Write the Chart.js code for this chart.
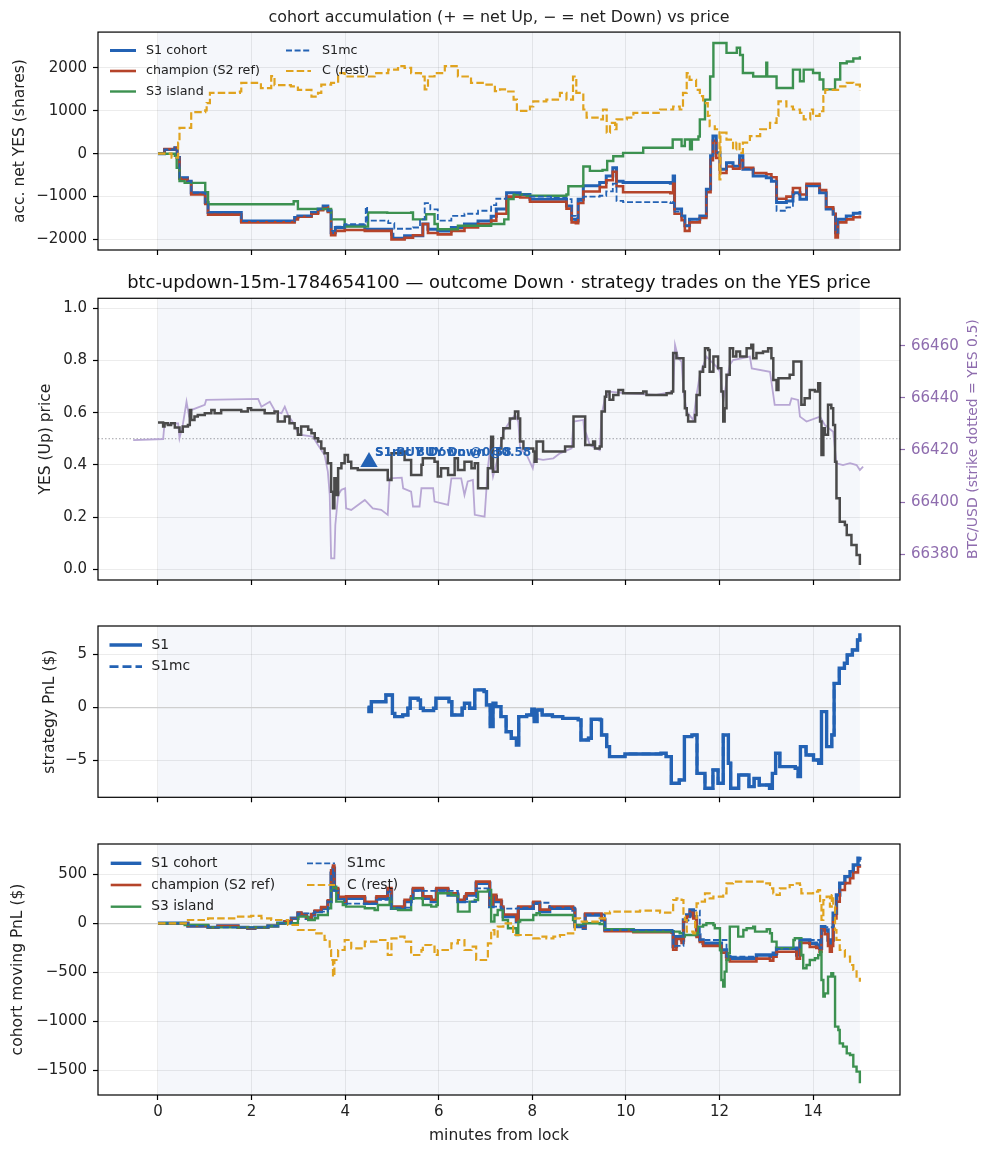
<!DOCTYPE html>
<html>
<head>
<meta charset="utf-8">
<script src="https://cdn.jsdelivr.net/npm/chart.js@4.4.1/dist/chart.umd.min.js"></script>
<style>
  body { margin: 0; background: #fff; }
  .panel { position: absolute; left: 0; }
</style>
</head>
<body>
<div class="panel" style="top:0"><canvas id="accChart" width="993" height="262"></canvas></div>
<div class="panel" style="top:262px"><canvas id="priceChart" width="993" height="330"></canvas></div>
<div class="panel" style="top:592px"><canvas id="pnlChart" width="993" height="215"></canvas></div>
<div class="panel" style="top:807px"><canvas id="cohortChart" width="993" height="349"></canvas></div>
<script>
// ---- data (minutes from lock, value) ----
const xTicks = [0, 2, 4, 6, 8, 10, 12, 14];
const windowSpan = [0, 15];

// panel 1: accumulated net YES shares
const accS1 = [[0,0],[0.14,100],[0.36,140],[0.41,-90],[0.46,-560],[0.63,-640],[0.71,-910],[1.01,-1140],[1.07,-1370],[1.78,-1570],[2.92,-1490],[2.99,-1450],[3.28,-1370],[3.42,-1290],[3.53,-1220],[3.63,-1330],[3.70,-1840],[3.79,-1720],[3.99,-1680],[4.42,-1760],[4.99,-1880],[5.02,-1970],[5.27,-1910],[5.66,-1640],[5.77,-1760],[5.98,-1800],[6.27,-1720],[6.55,-1640],[6.84,-1570],[7.12,-1460],[7.23,-1290],[7.45,-910],[7.74,-950],[7.95,-1060],[8.73,-1220],[8.84,-1530],[8.93,-1570],[8.98,-1060],[9.09,-750],[9.44,-670],[9.58,-520],[9.72,-330],[9.80,-640],[9.94,-670],[10.95,-690],[11.01,-520],[11.04,-1290],[11.19,-1450],[11.26,-1680],[11.36,-1530],[11.58,-1450],[11.72,-830],[11.81,-50],[11.86,410],[11.93,20],[12.01,-360],[12.15,-210],[12.29,-290],[12.43,-50],[12.50,-360],[12.72,-520],[13.00,-560],[13.11,-640],[13.22,-1140],[13.43,-1100],[13.57,-910],[13.72,-1060],[13.86,-750],[14.14,-910],[14.28,-1290],[14.43,-1410],[14.48,-1840],[14.53,-1530],[14.71,-1450],[14.86,-1390],[15.00,-1340]];
const accChampion = [[0,0],[0.14,110],[0.36,130],[0.41,-100],[0.46,-580],[0.63,-660],[0.71,-950],[1.01,-1170],[1.07,-1420],[1.78,-1600],[2.92,-1530],[2.99,-1470],[3.28,-1400],[3.42,-1320],[3.53,-1250],[3.63,-1360],[3.70,-1900],[3.79,-1800],[3.99,-1780],[4.42,-1800],[4.99,-2000],[5.27,-1960],[5.45,-1900],[5.66,-1640],[5.77,-1850],[5.98,-1880],[6.27,-1800],[6.55,-1720],[6.84,-1640],[7.12,-1560],[7.23,-1400],[7.45,-1000],[7.74,-1020],[7.95,-1120],[8.73,-1280],[8.84,-1600],[8.93,-1620],[8.98,-1150],[9.09,-880],[9.44,-780],[9.58,-620],[9.72,-420],[9.80,-760],[9.94,-900],[10.95,-920],[11.01,-700],[11.04,-1400],[11.19,-1550],[11.26,-1800],[11.36,-1600],[11.58,-1500],[11.72,-900],[11.81,-150],[11.86,300],[11.93,-100],[12.01,-450],[12.15,-300],[12.29,-350],[12.43,-150],[12.50,-330],[12.72,-450],[13.00,-480],[13.11,-550],[13.22,-1050],[13.43,-1000],[13.57,-800],[13.72,-950],[13.86,-700],[14.14,-850],[14.28,-1250],[14.43,-1400],[14.48,-1950],[14.53,-1600],[14.71,-1530],[14.86,-1480],[15.00,-1440]];
const accS3 = [[0,0],[0.36,-50],[0.40,-330],[0.46,-640],[0.57,-680],[1.01,-900],[1.07,-1180],[2.84,-1180],[2.90,-1110],[2.99,-1290],[3.63,-1290],[3.70,-1530],[3.99,-1700],[4.42,-1700],[4.49,-1370],[4.90,-1380],[5.41,-1370],[5.45,-1530],[5.66,-1530],[5.73,-1410],[5.91,-1640],[5.98,-1760],[6.27,-1760],[6.41,-1680],[6.84,-1680],[7.12,-1640],[7.40,-1530],[7.49,-1060],[7.60,-950],[7.88,-980],[8.73,-950],[8.77,-760],[9.09,-300],[9.23,-400],[9.50,-380],[9.60,-170],[9.73,-60],[9.94,20],[10.37,140],[10.94,140],[11.00,330],[11.19,180],[11.26,330],[11.37,100],[11.41,330],[11.55,400],[11.58,800],[11.69,1260],[11.80,1800],[11.87,2580],[12.08,2580],[12.15,2350],[12.37,2470],[12.44,2300],[12.50,1880],[12.72,1800],[12.99,1800],[13.00,2120],[13.02,1800],[13.22,1530],[13.50,1530],[13.57,1960],[13.72,1690],[13.80,1960],[14.00,1880],[14.14,1730],[14.22,1500],[14.43,1500],[14.47,1730],[14.58,2110],[14.72,2150],[14.86,2220],[15.00,2270]];
const accS1mc = [[0,0],[0.14,100],[0.36,140],[0.41,-90],[0.46,-560],[0.63,-640],[0.71,-910],[1.01,-1140],[1.07,-1370],[1.78,-1570],[2.92,-1490],[2.99,-1450],[3.28,-1370],[3.42,-1290],[3.53,-1220],[3.63,-1330],[3.70,-1800],[3.79,-1700],[3.99,-1640],[4.42,-1600],[4.44,-1240],[4.47,-1560],[4.92,-1620],[5.05,-1750],[5.45,-1720],[5.60,-1530],[5.70,-1150],[5.82,-1300],[5.98,-1560],[6.27,-1450],[6.55,-1400],[6.84,-1330],[7.12,-1200],[7.23,-1050],[7.45,-920],[7.74,-950],[7.95,-1000],[8.40,-1030],[8.73,-1060],[8.84,-1450],[8.93,-1500],[8.98,-1100],[9.09,-1000],[9.44,-980],[9.58,-880],[9.72,-700],[9.80,-1100],[9.94,-1130],[10.95,-1150],[11.01,-1100],[11.04,-1350],[11.19,-1450],[11.26,-1680],[11.36,-1530],[11.58,-1450],[11.72,-830],[11.81,-50],[11.86,410],[11.93,20],[12.01,-360],[12.15,-210],[12.29,-290],[12.43,-50],[12.50,-360],[12.72,-520],[13.00,-560],[13.11,-640],[13.22,-1330],[13.43,-1250],[13.57,-950],[13.72,-1060],[13.86,-750],[14.14,-910],[14.28,-1290],[14.43,-1410],[14.48,-1840],[14.53,-1530],[14.71,-1450],[14.86,-1390],[15.00,-1340]];
const accRest = [[0,0],[0.29,-90],[0.43,260],[0.46,600],[0.64,600],[0.71,970],[1.01,1010],[1.04,1180],[1.11,1420],[1.75,1450],[1.78,1650],[2.20,1530],[2.42,1810],[2.49,1600],[2.84,1570],[2.99,1490],[3.28,1330],[3.42,1420],[3.49,1610],[3.70,1650],[3.85,1880],[3.99,1800],[4.42,1800],[4.63,1880],[4.92,1960],[5.13,2040],[5.27,2000],[5.41,1880],[5.62,1800],[5.70,1500],[5.77,1800],[5.91,1880],[6.13,2040],[6.41,1800],[6.69,1650],[6.98,1610],[7.20,1460],[7.31,1500],[7.45,1450],[7.60,1260],[7.67,1000],[7.95,1100],[8.02,1220],[8.30,1260],[8.59,1420],[8.73,1260],[8.87,1800],[8.94,1420],[9.09,1030],[9.16,840],[9.44,800],[9.51,1030],[9.59,490],[9.66,720],[9.77,570],[9.80,800],[10.02,840],[10.16,950],[10.45,950],[10.73,1030],[11.01,1100],[11.15,1030],[11.22,1420],[11.30,1880],[11.36,1720],[11.50,1490],[11.58,1340],[11.65,1180],[11.75,880],[11.79,640],[11.90,570],[12.00,-600],[12.02,490],[12.15,330],[12.29,100],[12.36,260],[12.43,20],[12.50,260],[12.65,410],[12.87,570],[13.08,720],[13.22,880],[13.26,1220],[13.43,1100],[13.57,1030],[13.72,950],[13.80,800],[13.94,1030],[14.00,880],[14.14,990],[14.22,1340],[14.26,1490],[14.43,1490],[14.58,1570],[14.72,1650],[14.86,1610],[15.00,1460]];

// panel 2: YES (Up) price and BTC/USD
const yesPrice = [[0,0.562],[0.11,0.547],[0.14,0.559],[0.21,0.553],[0.28,0.559],[0.36,0.543],[0.46,0.527],[0.53,0.547],[0.64,0.553],[0.68,0.610],[0.71,0.572],[0.78,0.585],[0.85,0.591],[1.00,0.598],[1.14,0.610],[1.21,0.598],[1.35,0.610],[1.78,0.604],[1.92,0.617],[1.99,0.610],[2.28,0.598],[2.49,0.604],[2.56,0.566],[2.71,0.585],[2.81,0.559],[2.92,0.540],[2.99,0.515],[3.06,0.547],[3.21,0.534],[3.28,0.521],[3.35,0.502],[3.42,0.489],[3.49,0.463],[3.56,0.444],[3.63,0.406],[3.70,0.297],[3.74,0.234],[3.77,0.349],[3.81,0.285],[3.85,0.387],[3.92,0.406],[3.99,0.438],[4.06,0.412],[4.13,0.387],[4.27,0.380],[4.91,0.342],[4.99,0.444],[5.20,0.451],[5.27,0.419],[5.41,0.361],[5.63,0.400],[5.66,0.425],[5.91,0.412],[5.98,0.355],[6.05,0.387],[6.20,0.361],[6.34,0.425],[6.41,0.380],[6.55,0.412],[6.70,0.387],[6.77,0.406],[6.84,0.310],[7.05,0.387],[7.12,0.508],[7.16,0.374],[7.26,0.463],[7.34,0.502],[7.38,0.540],[7.52,0.578],[7.63,0.604],[7.70,0.578],[7.74,0.489],[7.81,0.463],[8.02,0.451],[8.05,0.412],[8.09,0.489],[8.23,0.451],[8.70,0.470],[8.88,0.585],[9.05,0.585],[9.13,0.476],[9.30,0.489],[9.34,0.463],[9.44,0.470],[9.48,0.604],[9.55,0.661],[9.58,0.681],[9.65,0.649],[9.73,0.668],[9.84,0.687],[9.94,0.674],[10.37,0.681],[10.44,0.668],[10.87,0.674],[10.98,0.681],[11.01,0.828],[11.08,0.808],[11.23,0.681],[11.26,0.617],[11.30,0.591],[11.33,0.566],[11.48,0.591],[11.51,0.668],[11.58,0.757],[11.65,0.776],[11.69,0.847],[11.76,0.840],[11.79,0.757],[11.87,0.815],[11.97,0.770],[12.04,0.681],[12.08,0.566],[12.11,0.617],[12.15,0.745],[12.22,0.847],[12.29,0.815],[12.36,0.834],[12.44,0.815],[12.58,0.847],[12.68,0.860],[12.72,0.808],[12.79,0.828],[12.93,0.834],[13.04,0.847],[13.11,0.808],[13.15,0.725],[13.22,0.687],[13.26,0.732],[13.50,0.745],[13.58,0.796],[13.72,0.796],[13.75,0.630],[13.82,0.655],[13.93,0.687],[14.04,0.681],[14.11,0.713],[14.15,0.566],[14.18,0.438],[14.22,0.540],[14.25,0.515],[14.32,0.630],[14.39,0.617],[14.43,0.553],[14.47,0.412],[14.50,0.272],[14.57,0.182],[14.68,0.170],[14.72,0.131],[14.82,0.093],[14.93,0.055],[15.00,0.016]];
const btcUsd = [[-0.53,66423.8],[0.11,66424.2],[0.14,66430.2],[0.43,66430.2],[0.46,66424.5],[0.53,66429.6],[0.61,66438.5],[0.66,66433.4],[0.71,66435.3],[1.00,66437.3],[1.03,66439.2],[2.14,66439.6],[2.21,66436.6],[2.39,66438.5],[2.51,66434.7],[2.64,66434.1],[2.71,66436.6],[2.78,66433.4],[2.92,66429.6],[2.99,66426.4],[3.06,66425.8],[3.31,66425.1],[3.42,66421.9],[3.56,66418.1],[3.63,66411.7],[3.67,66402.7],[3.70,66378.4],[3.77,66378.4],[3.79,66391.2],[3.85,66402.7],[3.92,66404.7],[4.00,66405.3],[4.02,66397.6],[4.13,66397.0],[4.42,66400.8],[4.59,66397.6],[4.77,66397.0],[4.91,66395.1],[4.95,66409.1],[5.21,66409.4],[5.24,66405.3],[5.41,66404.0],[5.45,66398.3],[5.59,66398.3],[5.63,66405.3],[5.88,66405.3],[5.91,66400.2],[6.20,66398.9],[6.27,66409.1],[6.48,66409.1],[6.55,66402.7],[6.62,66407.9],[6.73,66408.5],[6.77,66395.1],[6.98,66394.4],[7.05,66413.0],[7.09,66419.4],[7.16,66409.8],[7.26,66416.8],[7.34,66423.2],[7.38,66427.0],[7.52,66430.9],[7.63,66433.4],[7.70,66430.9],[7.74,66420.6],[7.88,66418.1],[8.01,66413.0],[8.05,66416.8],[8.23,66416.2],[8.45,66416.8],[8.59,66418.7],[8.84,66420.6],[8.88,66430.9],[9.09,66431.5],[9.13,66423.2],[9.16,66425.8],[9.23,66421.9],[9.44,66420.0],[9.48,66433.4],[9.55,66439.8],[9.66,66442.4],[10.01,66441.7],[10.65,66441.1],[11.01,66442.4],[11.05,66460.3],[11.12,66455.2],[11.19,66453.9],[11.23,66442.4],[11.30,66434.7],[11.44,66431.5],[11.51,66441.1],[11.58,66448.8],[11.72,66455.8],[11.94,66451.9],[12.01,66450.0],[12.08,66438.5],[12.15,66446.2],[12.22,66452.6],[12.29,66454.5],[12.65,66455.8],[12.69,66451.3],[13.08,66450.0],[13.15,66441.1],[13.18,66437.3],[13.50,66437.3],[13.54,66439.8],[13.68,66439.2],[13.72,66432.8],[13.86,66430.9],[14.15,66432.8],[14.25,66429.6],[14.43,66427.0],[14.50,66414.9],[14.64,66414.2],[14.79,66414.9],[14.93,66414.2],[15.00,66412.3],[15.07,66413.6]];
const yesStrike = 0.5;
const tradeMarks = [[4.51, 0.411]];
const tradeLabels = ['S1 BUY Down @0.58', 'S1mc BUY Down @0.58'];

// panel 3: strategy PnL ($) (S1mc runs on top of S1 and is hidden by it)
const pnlS1 = [[4.48,0],[4.51,-0.41],[4.56,0.53],[4.87,1.16],[5.01,-0.57],[5.06,-0.88],[5.23,-0.72],[5.34,-0.09],[5.39,0.85],[5.56,0.69],[5.61,-0.09],[5.67,-0.31],[5.89,-0.09],[5.94,0.85],[6.22,0.53],[6.28,-0.72],[6.50,-0.09],[6.55,0.38],[6.66,-0.09],[6.77,1.64],[6.97,1.48],[7.02,0.22],[7.10,-1.82],[7.16,0.38],[7.22,0.06],[7.33,-0.88],[7.44,-2.30],[7.55,-2.92],[7.66,-3.55],[7.71,-0.88],[7.88,-0.72],[7.99,-0.19],[8.04,-1.35],[8.10,-0.25],[8.21,-0.72],[8.43,-0.88],[8.65,-1.04],[8.98,-1.19],[9.04,-3.08],[9.20,-2.92],[9.26,-1.13],[9.45,-1.19],[9.48,-2.61],[9.59,-3.71],[9.65,-4.65],[9.87,-4.65],[9.98,-4.40],[10.75,-4.34],[10.86,-4.65],[10.97,-7.17],[11.14,-6.86],[11.25,-2.77],[11.41,-2.61],[11.52,-6.23],[11.69,-7.64],[11.86,-5.91],[11.97,-7.17],[12.08,-2.61],[12.19,-5.28],[12.24,-7.64],[12.41,-6.38],[12.63,-7.48],[12.74,-6.70],[12.85,-7.33],[13.07,-7.64],[13.13,-6.23],[13.20,-4.34],[13.29,-5.60],[13.62,-5.75],[13.68,-6.54],[13.73,-3.71],[13.85,-4.50],[14.01,-4.97],[14.12,-5.28],[14.18,-0.41],[14.29,-3.71],[14.40,-2.61],[14.45,2.26],[14.56,3.68],[14.67,4.15],[14.73,4.94],[14.84,5.41],[14.95,6.35],[15.00,6.98]];
const pnlS1mc = pnlS1;

// panel 4: cohort moving PnL ($)
const movS1 = [[0,0],[0.57,0],[0.64,-27],[1.07,-41],[1.28,-27],[1.71,-41],[1.92,-51],[2.07,-41],[2.35,-27],[2.56,0],[2.71,17],[2.85,51],[2.99,102],[3.06,85],[3.17,51],[3.28,85],[3.35,119],[3.49,153],[3.63,221],[3.70,510],[3.74,561],[3.77,340],[3.85,255],[3.99,204],[4.02,255],[4.42,204],[4.67,255],[4.91,340],[4.99,153],[5.27,221],[5.41,255],[5.45,340],[5.66,255],[5.84,221],[5.95,340],[6.20,289],[6.41,221],[6.55,255],[6.59,289],[6.80,408],[7.09,170],[7.16,272],[7.23,221],[7.34,153],[7.38,68],[7.66,17],[7.70,153],[8.02,204],[8.16,119],[8.37,153],[8.87,136],[8.91,-34],[9.09,-51],[9.13,85],[9.44,85],[9.48,34],[9.55,-68],[10.16,-75],[10.98,-85],[11.01,-238],[11.08,-136],[11.19,-170],[11.23,34],[11.30,85],[11.37,136],[11.44,68],[11.51,-119],[11.58,-170],[11.65,-204],[12.04,-272],[12.15,-340],[12.22,-357],[12.79,-323],[13.08,-340],[13.15,-306],[13.22,-255],[13.65,-323],[13.72,-170],[13.93,-204],[14.07,-221],[14.14,-255],[14.18,-34],[14.25,-68],[14.32,-170],[14.36,-221],[14.40,-170],[14.43,102],[14.50,289],[14.57,408],[14.68,476],[14.79,527],[14.86,595],[14.96,663],[15.00,680]];
const movChampion = [[0,0],[0.57,0],[0.64,-27],[1.07,-41],[1.28,-27],[1.71,-41],[1.92,-51],[2.07,-41],[2.35,-27],[2.56,0],[2.71,17],[2.85,51],[2.99,110],[3.06,95],[3.17,60],[3.28,95],[3.35,130],[3.49,165],[3.63,235],[3.70,540],[3.74,590],[3.77,360],[3.85,270],[3.99,220],[4.02,275],[4.42,220],[4.67,275],[4.91,360],[4.99,170],[5.27,240],[5.41,275],[5.45,360],[5.66,275],[5.84,240],[5.95,360],[6.20,305],[6.41,240],[6.55,275],[6.59,305],[6.80,425],[7.09,190],[7.16,290],[7.23,240],[7.34,170],[7.38,90],[7.66,30],[7.70,170],[8.02,220],[8.16,140],[8.37,170],[8.87,150],[8.91,-20],[9.09,-40],[9.13,100],[9.44,100],[9.48,50],[9.55,-80],[10.16,-90],[10.98,-95],[11.01,-270],[11.08,-160],[11.19,-200],[11.23,20],[11.30,70],[11.37,120],[11.44,50],[11.51,-140],[11.58,-190],[11.65,-230],[12.04,-300],[12.15,-370],[12.22,-390],[12.79,-360],[13.08,-380],[13.15,-340],[13.22,-290],[13.65,-360],[13.72,-200],[13.93,-240],[14.07,-250],[14.14,-290],[14.18,-60],[14.25,-110],[14.32,-230],[14.36,-290],[14.40,-230],[14.43,50],[14.50,220],[14.57,340],[14.68,410],[14.79,460],[14.86,520],[14.96,580],[15.00,600]];
const movS3 = [[0,0],[0.57,-17],[1.07,-41],[1.71,-41],[2.35,-27],[2.56,0],[2.99,68],[3.21,34],[3.35,51],[3.42,85],[3.63,153],[3.70,357],[3.74,374],[3.81,221],[3.95,187],[4.02,170],[4.42,153],[4.63,136],[4.70,187],[4.95,255],[4.99,153],[5.13,136],[5.38,136],[5.41,255],[5.63,255],[5.66,187],[5.84,170],[5.95,187],[5.98,306],[6.27,289],[6.41,119],[6.62,119],[6.66,221],[6.77,238],[6.84,323],[7.05,340],[7.12,17],[7.19,85],[7.26,136],[7.37,34],[7.48,-51],[7.66,-119],[7.70,17],[7.74,34],[8.02,85],[8.09,102],[8.16,85],[8.87,34],[8.91,-17],[9.09,0],[9.44,-7],[9.55,-61],[10.16,-85],[10.98,-85],[11.15,-102],[11.23,-136],[11.26,-119],[11.51,-102],[11.55,-34],[11.65,-17],[11.72,0],[11.87,-17],[11.90,-51],[12.01,-272],[12.04,-578],[12.08,-646],[12.11,-493],[12.15,-374],[12.19,-306],[12.22,-34],[12.36,-34],[12.40,-136],[12.51,-68],[12.58,-51],[12.72,-34],[12.76,-85],[13.01,-61],[13.08,-102],[13.12,-187],[13.22,-255],[13.50,-255],[13.58,-170],[13.61,-153],[13.72,-153],[13.75,-323],[13.79,-459],[13.86,-425],[13.93,-374],[14.04,-357],[14.11,-323],[14.15,-289],[14.18,-578],[14.22,-748],[14.25,-714],[14.32,-544],[14.39,-510],[14.43,-544],[14.47,-1054],[14.54,-1088],[14.57,-1224],[14.64,-1258],[14.72,-1326],[14.79,-1343],[14.86,-1462],[14.93,-1513],[15.00,-1632]];
const movS1mc = [[0,0],[0.64,-27],[1.07,-41],[1.71,-41],[2.35,-27],[2.56,0],[2.85,51],[2.99,102],[3.35,119],[3.63,221],[3.70,500],[3.74,550],[3.77,330],[3.85,250],[3.99,200],[4.42,204],[4.67,240],[4.91,320],[4.99,160],[5.41,250],[5.45,330],[5.95,330],[6.41,220],[6.80,357],[7.09,170],[7.34,150],[7.70,160],[8.02,210],[8.37,160],[8.91,-30],[9.13,90],[9.55,-68],[10.98,-85],[11.01,-230],[11.23,30],[11.37,130],[11.58,-170],[12.15,-340],[12.79,-323],[13.22,-260],[13.72,-170],[14.14,-255],[14.18,-40],[14.43,102],[14.50,289],[14.57,408],[14.68,476],[14.79,527],[14.86,595],[15.00,670]];
const movRest = [[0,0],[0.64,34],[1.07,51],[1.71,68],[1.99,75],[2.21,51],[2.42,34],[2.78,-17],[2.99,-68],[3.28,-68],[3.35,-102],[3.56,-170],[3.67,-272],[3.70,-374],[3.74,-544],[3.77,-374],[3.85,-272],[3.99,-170],[4.13,-255],[4.42,-187],[4.70,-170],[4.91,-323],[4.99,-153],[5.13,-136],[5.27,-187],[5.41,-323],[5.63,-272],[5.66,-221],[5.84,-238],[5.91,-323],[5.98,-272],[6.27,-204],[6.41,-170],[6.55,-272],[6.70,-238],[6.80,-374],[7.02,-374],[7.05,-204],[7.12,-68],[7.19,-136],[7.26,-34],[7.38,0],[7.59,-119],[8.02,-153],[8.16,-136],[8.30,-153],[8.45,-136],[8.59,-119],[8.73,-102],[8.91,51],[9.02,17],[9.44,51],[9.55,102],[9.66,119],[10.30,129],[10.73,109],[10.98,119],[11.01,238],[11.08,255],[11.19,238],[11.23,68],[11.26,34],[11.30,-85],[11.44,-102],[11.48,34],[11.51,204],[11.58,221],[11.69,306],[11.79,255],[11.87,272],[12.08,306],[12.15,408],[12.29,425],[12.86,425],[13.00,408],[13.08,357],[13.15,306],[13.22,289],[13.29,357],[13.50,391],[13.65,408],[13.72,391],[13.75,306],[14.00,323],[14.11,340],[14.15,204],[14.18,34],[14.22,238],[14.29,272],[14.36,170],[14.40,289],[14.43,170],[14.47,-68],[14.50,-170],[14.57,-272],[14.68,-340],[14.79,-425],[14.86,-476],[14.93,-544],[15.00,-595]];

// ---- styling ----
const FONT = '"DejaVu Sans", sans-serif';
const BLUE = '#2362b4', RED = '#b5442a', GREEN = '#3c9150', GOLD = '#e0a31f';
const DARK = '#4a4a4a', BTC_LINE = '#b8a7d4', PURPLE = '#8e6cae';
const GRID = 'rgba(0,0,0,0.075)', ZERO = '#cfcfcf', SHADE = '#f5f7fb';
const X_MIN = -1.282, X_MAX = 15.858;

Chart.defaults.font.family = FONT;
Chart.defaults.color = '#222';
Chart.defaults.animation = false;

const pts = arr => arr.map(([x, y]) => ({ x, y }));
const minus = v => String(v).replace('-', '\u2212');

function noPad(s) { s.paddingTop = 0; s.paddingBottom = 0; s.paddingLeft = 0; s.paddingRight = 0; }

function xAxis(height, showLabels, title) {
  return {
    type: 'linear', min: X_MIN, max: X_MAX,
    afterBuildTicks: s => { s.ticks = xTicks.map(v => ({ value: v })); },
    afterFit: s => { s.height = height; noPad(s); },
    border: { display: false },
    grid: { color: GRID, lineWidth: 1, tickLength: 5, tickColor: '#000', tickWidth: 1.2 },
    ticks: { display: showLabels, font: { size: 15 }, padding: 3, maxRotation: 0, color: '#222', callback: v => minus(v) },
    title: title ? { display: true, text: title, font: { size: 15.5 }, color: '#222', padding: { top: 0, bottom: 10.7 } } : { display: false }
  };
}

function yAxis(min, max, ticks, title, titlePad, fmt, zeroLine) {
  return {
    type: 'linear', position: 'left', min, max,
    afterBuildTicks: s => { s.ticks = ticks.map(v => ({ value: v })); },
    afterFit: s => { s.width = 98; noPad(s); },
    border: { display: false },
    grid: {
      color: c => (zeroLine && c.tick && c.tick.value === 0) ? ZERO : GRID,
      lineWidth: c => (zeroLine && c.tick && c.tick.value === 0) ? 1.2 : 1,
      tickLength: 5, tickColor: '#000', tickWidth: 1.2
    },
    ticks: { font: { size: 15 }, padding: 6, color: '#222', callback: fmt },
    title: { display: true, text: title, font: { size: 15.5 }, color: '#222', padding: { top: titlePad, bottom: 0 } }
  };
}

function line(label, data, color, width, dash, extra) {
  return Object.assign({
    label, data: pts(data), borderColor: color, backgroundColor: color,
    borderWidth: width, borderDash: dash || [], pointRadius: 0, stepped: 'before', fill: false
  }, extra || {});
}

// later datasets drawn on top, like the plotting order of the original figure
function stackOrder(sets) { sets.forEach((d, i) => { if (d.order === undefined) d.order = -i; }); return sets; }

const panelDecor = {
  id: 'panelDecor',
  beforeDraw(chart) {
    const { ctx, chartArea: a, scales: { x } } = chart;
    const x0 = x.getPixelForValue(windowSpan[0]), x1 = x.getPixelForValue(windowSpan[1]);
    ctx.save();
    ctx.fillStyle = SHADE;
    ctx.fillRect(x0, a.top, x1 - x0, a.bottom - a.top);
    ctx.restore();
  },
  afterDraw(chart) {
    const { ctx, chartArea: a } = chart;
    ctx.save();
    ctx.strokeStyle = '#000';
    ctx.lineWidth = 1.2;
    ctx.strokeRect(a.left, a.top, a.right - a.left, a.bottom - a.top);
    ctx.restore();
  }
};

const innerLegend = {
  id: 'innerLegend',
  afterDatasetsDraw(chart, args, opts) {
    if (!opts || !opts.items) return;
    const ctx = chart.ctx;
    ctx.save();
    ctx.font = opts.size + 'px ' + FONT;
    ctx.textBaseline = 'middle';
    ctx.textAlign = 'left';
    opts.items.forEach(([di, col, row]) => {
      const ds = chart.data.datasets[di];
      const c = opts.cols[col], y = opts.rows[row];
      ctx.beginPath();
      ctx.strokeStyle = ds.borderColor;
      ctx.lineWidth = ds.borderWidth;
      ctx.setLineDash(ds.borderDash || []);
      ctx.moveTo(c[0], y);
      ctx.lineTo(c[1], y);
      ctx.stroke();
      ctx.setLineDash([]);
      ctx.fillStyle = '#222';
      ctx.fillText(ds.label, c[2], y);
    });
    ctx.restore();
  }
};

Chart.register(panelDecor, innerLegend);

// ---- panel 1: cohort accumulation ----
new Chart(document.getElementById('accChart'), {
  type: 'line',
  data: {
    datasets: stackOrder([
      line('S1 cohort', accS1, BLUE, 3),
      line('champion (S2 ref)', accChampion, RED, 2.6),
      line('S3 island', accS3, GREEN, 2.4),
      line('S1mc', accS1mc, BLUE, 1.8, [6, 2.6]),
      line('C (rest)', accRest, GOLD, 2.2, [7.5, 3.2])
    ])
  },
  options: {
    responsive: false,
    layout: { padding: { left: 0, right: 93, top: 0, bottom: 0 } },
    plugins: {
      legend: { display: false },
      tooltip: { enabled: false },
      title: { display: true, fullSize: false, text: 'cohort accumulation (+ = net Up, \u2212 = net Down) vs price', font: { size: 15.9, weight: 'normal' }, color: '#222', padding: { top: 8.5, bottom: 4.5 } },
      innerLegend: { size: 12.7, rows: [50.5, 71, 91.5], cols: [[110, 136, 146], [286, 311, 322]], items: [[0, 0, 0], [1, 0, 1], [2, 0, 2], [3, 1, 0], [4, 1, 1]] }
    },
    scales: {
      x: xAxis(12, false),
      y: yAxis(-2245, 2835, [-2000, -1000, 0, 1000, 2000], 'acc. net YES (shares)', 10.7, v => minus(v), true)
    }
  }
});

// ---- panel 2: YES price and BTC ----
const priceNotes = {
  id: 'priceNotes',
  beforeDatasetsDraw(chart) {
    const { ctx, chartArea: a, scales: { y } } = chart;
    const py = y.getPixelForValue(yesStrike);
    ctx.save();
    ctx.strokeStyle = 'rgba(120,120,130,0.7)';
    ctx.lineWidth = 1;
    ctx.setLineDash([1.5, 2]);
    ctx.beginPath();
    ctx.moveTo(a.left, py);
    ctx.lineTo(a.right, py);
    ctx.stroke();
    ctx.restore();
  },
  afterDatasetsDraw(chart) {
    const { ctx, scales: { x, y } } = chart;
    ctx.save();
    ctx.font = 'bold 12px ' + FONT;
    ctx.fillStyle = BLUE;
    ctx.textBaseline = 'alphabetic';
    tradeMarks.forEach(([t, p]) => {
      const px = x.getPixelForValue(t), py = y.getPixelForValue(p);
      tradeLabels.forEach(txt => ctx.fillText(txt, px + 6, py - 6));
    });
    ctx.restore();
  },
  afterDraw(chart) {
    const { ctx, chartArea: a } = chart;
    ctx.save();
    ctx.translate(973.3, (a.top + a.bottom) / 2);
    ctx.rotate(-Math.PI / 2);
    ctx.font = '14px ' + FONT;
    ctx.fillStyle = PURPLE;
    ctx.textAlign = 'center';
    ctx.textBaseline = 'middle';
    ctx.fillText('BTC/USD (strike dotted = YES 0.5)', 0, 0);
    ctx.restore();
  }
};

new Chart(document.getElementById('priceChart'), {
  type: 'line',
  data: {
    datasets: [
      { label: 'trades', data: pts(tradeMarks), showLine: false, pointStyle: 'triangle', pointRadius: 10, pointBackgroundColor: BLUE, pointBorderWidth: 0, borderColor: BLUE, order: -3 },
      line('YES (Up)', yesPrice, DARK, 2.5, null, { order: -2 }),
      line('BTC/USD', btcUsd, BTC_LINE, 1.8, null, { stepped: false, yAxisID: 'y2', order: -1 })
    ]
  },
  options: {
    responsive: false,
    layout: { padding: 0 },
    plugins: {
      legend: { display: false },
      tooltip: { enabled: false },
      title: { display: true, fullSize: false, text: 'btc-updown-15m-1784654100 \u2014 outcome Down \u00b7 strategy trades on the YES price', font: { size: 17.9, weight: 'normal' }, color: '#111', padding: { top: 10.2, bottom: 4.6 } }
    },
    scales: {
      x: xAxis(12, false),
      y: yAxis(-0.041, 1.038, [0, 0.2, 0.4, 0.6, 0.8, 1.0], 'YES (Up) price', 36.2, v => Number(v).toFixed(1), false),
      y2: {
        type: 'linear', position: 'right', min: 66370.1, max: 66478.2,
        afterBuildTicks: s => { s.ticks = [66380, 66400, 66420, 66440, 66460].map(v => ({ value: v })); },
        afterFit: s => { s.width = 93; noPad(s); },
        border: { display: false },
        grid: { drawOnChartArea: false, tickLength: 5, tickColor: PURPLE, tickWidth: 1.2 },
        ticks: { font: { size: 15 }, padding: 6, color: PURPLE, callback: v => String(v) }
      }
    }
  },
  plugins: [priceNotes]
});

// ---- panel 3: strategy PnL ----
new Chart(document.getElementById('pnlChart'), {
  type: 'line',
  data: {
    datasets: stackOrder([
      line('S1mc', pnlS1mc, BLUE, 2.8, [9, 4]),
      line('S1', pnlS1, BLUE, 3.4)
    ])
  },
  options: {
    responsive: false,
    layout: { padding: { left: 0, right: 93, top: 34, bottom: 0 } },
    plugins: {
      legend: { display: false },
      tooltip: { enabled: false },
      innerLegend: { size: 13.8, rows: [53, 74.7], cols: [[109.5, 142, 151.5]], items: [[1, 0, 0], [0, 0, 1]] }
    },
    scales: {
      x: xAxis(9.7, false),
      y: yAxis(-8.49, 7.67, [-5, 0, 5], 'strategy PnL ($)', 40.7, v => minus(v), true)
    }
  }
});

// ---- panel 4: cohort moving PnL ----
new Chart(document.getElementById('cohortChart'), {
  type: 'line',
  data: {
    datasets: stackOrder([
      line('S1 cohort', movS1, BLUE, 3.4),
      line('champion (S2 ref)', movChampion, RED, 2.6),
      line('S3 island', movS3, GREEN, 2.4),
      line('S1mc', movS1mc, BLUE, 1.8, [6, 2.6]),
      line('C (rest)', movRest, GOLD, 2.2, [7.5, 3.2])
    ])
  },
  options: {
    responsive: false,
    layout: { padding: { left: 0, right: 93, top: 37, bottom: 0 } },
    plugins: {
      legend: { display: false },
      tooltip: { enabled: false },
      innerLegend: { size: 13.8, rows: [56.3, 78, 99.7], cols: [[110.7, 141.3, 151.3], [307, 335, 347]], items: [[0, 0, 0], [1, 0, 1], [2, 0, 2], [3, 1, 0], [4, 1, 1]] }
    },
    scales: {
      x: xAxis(61, true, 'minutes from lock'),
      y: yAxis(-1751, 809, [-1500, -1000, -500, 0, 500], 'cohort moving PnL ($)', 9, v => minus(v), true)
    }
  }
});
</script>
</body>
</html>
